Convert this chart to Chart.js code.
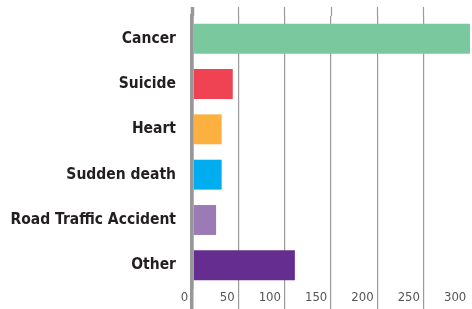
<!DOCTYPE html>
<html>
<head>
<meta charset="utf-8">
<script src="https://cdn.jsdelivr.net/npm/chart.js@4/dist/chart.umd.min.js"></script>
<style>
  html, body { margin: 0; padding: 0; background: #fff; }
  #wrap { width: 472px; height: 309px; position: relative; }
</style>
</head>
<body>
<div id="wrap"><canvas id="chart"></canvas></div>
<script>
// causes of death
const causes = ["Cancer", "Suicide", "Heart", "Sudden death", "Road Traffic Accident", "Other"];
const deaths = [325, 44, 32, 32, 26, 111];
const barColors = ["#7ac99e", "#ef4354", "#fbb040", "#00aeef", "#9b7bb5", "#662d91"];
const xTicks = [0, 50, 100, 150, 200, 250, 300];

const axisGray = "#98979c";
const narrow = "'Liberation Sans Narrow', 'DejaVu Sans Condensed', 'Arial Narrow', sans-serif";

// gridline colour / width per tick: thick grey zero line, last one hidden
const lineColor = (c) => (c.index === 0 ? axisGray : c.index === xTicks.length - 1 ? "rgba(0,0,0,0)" : "#9a9a9a");
const lineWidth = (c) => (c.index === 0 ? 3.5 : 1.2);
const setTicks = (s) => {
  s.ticks = xTicks.map((v) => ({ value: v }));
};

const ctx = document.getElementById("chart").getContext("2d");
const chart = new Chart(ctx, {
  type: "bar",
  data: {
    labels: causes,
    datasets: [
      {
        data: deaths,
        backgroundColor: barColors,
        borderWidth: 0,
        barPercentage: 0.66,
        categoryPercentage: 1,
      },
    ],
  },
  options: {
    indexAxis: "y",
    responsive: true,
    maintainAspectRatio: false,
    animation: false,
    layout: { padding: { top: 7, right: 2, left: 0, bottom: 0 } },
    plugins: {
      legend: { display: false },
      tooltip: { enabled: false },
    },
    scales: {
      x: {
        min: 0,
        max: 300,
        afterBuildTicks: setTicks,
        afterFit: (s) => {
          s.height = 21;
          s.paddingLeft = 0;
          s.paddingRight = 0;
        },
        border: { display: false },
        grid: {
          color: lineColor,
          lineWidth: lineWidth,
          tickLength: 21,
          tickColor: lineColor,
          tickWidth: lineWidth,
        },
        ticks: {
          align: "end",
          padding: -19,
          color: "#555",
          font: { family: narrow, size: 13 },
          callback: (v) => v + " ",
        },
      },
      // top axis only carries the gridlines up above the first bar
      xTop: {
        axis: "x",
        position: "top",
        min: 0,
        max: 300,
        afterBuildTicks: setTicks,
        afterFit: (s) => {
          s.height = 9;
          s.paddingLeft = 0;
          s.paddingRight = 0;
        },
        border: { display: false },
        grid: {
          drawOnChartArea: false,
          tickLength: 9,
          tickColor: lineColor,
          tickWidth: lineWidth,
        },
        ticks: { display: false },
      },
      y: {
        afterFit: (s) => {
          s.width = 192;
          s.paddingTop = 0;
          s.paddingBottom = 0;
        },
        border: { display: true, color: axisGray, width: 3.5, z: 1 },
        grid: { display: false },
        ticks: {
          padding: 8,
          color: "#231f20",
          font: { family: narrow, size: 15.5, weight: "bold" },
        },
      },
    },
  },
});
</script>
</body>
</html>
